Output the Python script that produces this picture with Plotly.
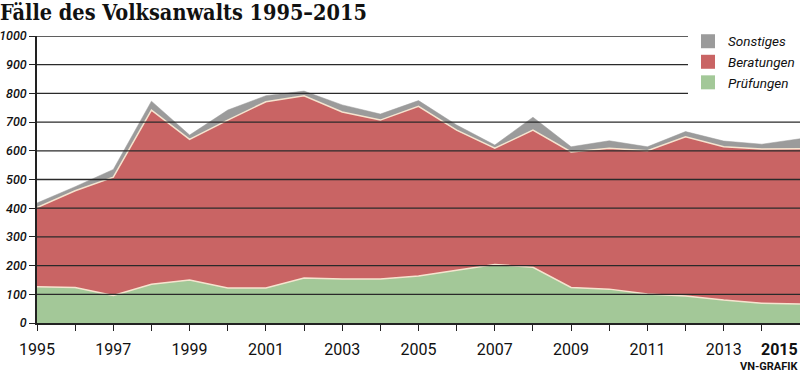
import plotly.graph_objects as go

years = list(range(1995, 2016))
pruefungen = [126, 124, 96, 135, 150, 122, 122, 157, 153, 153, 164, 185, 204, 194, 124, 118, 101, 94, 80, 69, 66]
beratungen = [276, 337, 412, 607, 490, 585, 649, 635, 582, 554, 591, 487, 405, 478, 472, 491, 499, 555, 534, 537, 541]
sonstiges = [16, 14, 27, 31, 15, 35, 21, 16, 25, 21, 20, 18, 11, 45, 18, 26, 14, 18, 20, 17, 35]

y_ticks = [0, 100, 200, 300, 400, 500, 600, 700, 800, 900, 1000]
x_ticktext = [str(y) if (y % 2 == 1 and y != 2015) else "" for y in years]

C_GREEN = "#a3c898"
C_RED = "#c96464"
C_GRAY = "#9b9b9b"
C_SEP = "#f6e4cf"
FONT = "Roboto"

fig = go.Figure()
fig.add_trace(go.Scatter(x=years, y=pruefungen, name="Prüfungen", stackgroup="one", showlegend=False,
                         mode="lines", line=dict(color=C_SEP, width=1.5), fillcolor=C_GREEN))
fig.add_trace(go.Scatter(x=years, y=beratungen, name="Beratungen", stackgroup="one", showlegend=False,
                         mode="lines", line=dict(color=C_SEP, width=1.5), fillcolor=C_RED))
fig.add_trace(go.Scatter(x=years, y=sonstiges, name="Sonstiges", stackgroup="one", showlegend=False,
                         mode="lines", line=dict(color=C_GRAY, width=0.5), fillcolor=C_GRAY))

# legend entries with square swatches
for name, col in [("Sonstiges", C_GRAY), ("Beratungen", C_RED), ("Prüfungen", C_GREEN)]:
    fig.add_trace(go.Scatter(x=[None], y=[None], name=name, mode="markers",
                             marker=dict(symbol="square", size=14, color=col)))

# gridlines drawn above the areas
for v in y_ticks[1:]:
    fig.add_shape(type="line", xref="paper", yref="y", x0=0, x1=1, y0=v, y1=v,
                  line=dict(color="#2a2a2a", width=1.3), layer="above")

fig.update_layout(
    width=800, height=377,
    margin=dict(l=37, r=0, t=36, b=54),
    paper_bgcolor="white", plot_bgcolor="white",
    title=dict(text="<b>Fälle des Volksanwalts 1995–2015</b>", x=0.0, xanchor="left",
               xref="container", yref="container", y=0.968, yanchor="middle",
               font=dict(family="DejaVu Serif Condensed, DejaVu Serif", size=21.5, color="#111")),
    showlegend=True,
    legend=dict(x=1.0, xanchor="right", y=1.035, yanchor="top", traceorder="normal",
                bgcolor="white", font=dict(family=FONT, size=13.5, color="#111", style="italic"),
                itemwidth=30, tracegroupgap=0, borderwidth=0),
    xaxis=dict(range=[1995, 2015], tickvals=years, ticktext=x_ticktext, ticks="outside",
               ticklen=6, tickcolor="#222", showgrid=False, showline=True, linecolor="#222",
               linewidth=1.5, tickfont=dict(family=FONT, size=16, color="#111"),
               ticklabelstandoff=5,
               zeroline=False, layer="above traces", automargin=False),
    yaxis=dict(range=[0, 1000], tickvals=y_ticks, ticks="outside", ticklen=6, tickcolor="#222",
               showgrid=False, showline=True, linecolor="#222", linewidth=1.5,
               tickfont=dict(family=FONT, size=12.5, color="#111", style="italic", weight=500),
               zeroline=False, layer="above traces", automargin=False),
)

fig.add_annotation(text="<b>2015</b>", xref="x", yref="paper", x=2015, y=-0.093,
                   xanchor="right", yanchor="middle", showarrow=False,
                   font=dict(family=FONT, size=16, color="#111"))
fig.add_annotation(text="<b>VN-GRAFIK</b>", xref="paper", yref="paper", x=1.0, y=-0.15,
                   xanchor="right", yanchor="middle", showarrow=False,
                   font=dict(family=FONT, size=11, color="#111"))

fig.write_html("out.html", config={"displayModeBar": False},
               post_script="document.body.style.margin='0px';")
